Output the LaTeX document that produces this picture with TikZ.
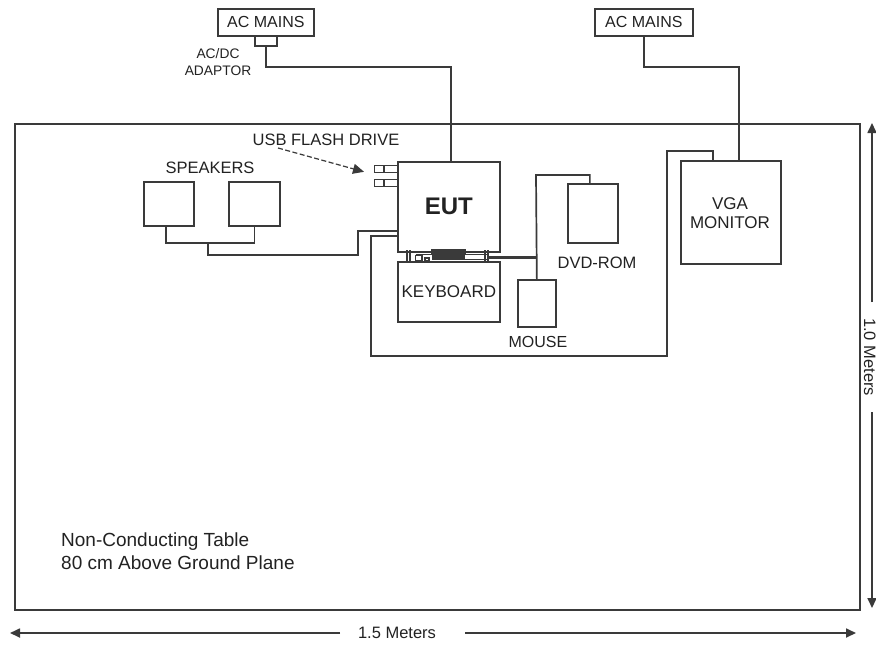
\documentclass[tikz,border=0pt]{standalone}
\usepackage{fontspec}
\setmainfont{Liberation Sans}
\usetikzlibrary{arrows.meta,calc}
\definecolor{lc}{HTML}{3A3A3A}
\definecolor{tc}{HTML}{222222}
\begin{document}
\begin{tikzpicture}[x=1pt,y=-1pt,
  ln/.style={draw=lc, line width=1.7pt},
  thin/.style={draw=lc, line width=1.1pt},
  box/.style={draw=lc, line width=1.7pt, inner sep=0pt, anchor=north west, text=tc},
  lbl/.style={text=tc, inner sep=0pt},
  fs/.style={font=\fontsize{#1}{#1}\selectfont},
  dimtip/.style={-{Triangle[length=10pt,width=9pt]}}
]
\useasboundingbox (0,0) rectangle (876,651);
\fill[white] (0,0) rectangle (876,651);

% table
\node[box, minimum width=845pt, minimum height=486pt] (table) at (14,123) {};

% mains and adaptor
\node[box, minimum width=96pt, minimum height=27pt, fs=16] (acm1) at (217,8) {AC MAINS};
\node[box, minimum width=22pt, minimum height=10pt] (adp) at (254,35) {};
\node[lbl, align=center, font=\fontsize{13.8}{17}\selectfont] (adplbl) at (218,62) {AC/DC\\ADAPTOR};
\node[box, minimum width=98pt, minimum height=27pt, fs=16] (acm2) at (594,8) {AC MAINS};

% equipment
\node[box, minimum width=102pt, minimum height=90pt, font=\bfseries\fontsize{24}{24}\selectfont] (eut) at (397,161) {EUT};
\node[box, minimum width=102pt, minimum height=60pt, fs=17] (kbd) at (397,261) {KEYBOARD};
\node[box, minimum width=100pt, minimum height=103pt] (vga) at (680,160) {};
\node[lbl, align=center, font=\fontsize{17}{19}\selectfont] (vgalbl) at (730,213) {VGA\\MONITOR};
\node[box, minimum width=50pt, minimum height=44pt] (spkL) at (143,181) {};
\node[box, minimum width=51pt, minimum height=44pt] (spkR) at (228,181) {};
\node[lbl, fs=16.5] (spklbl) at (210,168) {SPEAKERS};
\node[box, minimum width=50pt, minimum height=59pt] (dvd) at (567,183) {};
\node[lbl, fs=16.5] (dvdlbl) at (597,263) {DVD-ROM};
\node[box, minimum width=38pt, minimum height=47pt] (mouse) at (517,279) {};
\node[lbl, fs=16] (mouselbl) at (538,342) {MOUSE};

% USB flash drives
\node[box, thin, minimum width=23pt, minimum height=6.5pt] (usb1) at (374,165) {};
\node[box, thin, minimum width=23pt, minimum height=6.5pt] (usb2) at (374,179) {};
\draw[thin] ($(usb1.north west)+(10,0)$) -- ($(usb1.south west)+(10,0)$);
\draw[thin] ($(usb2.north west)+(10,0)$) -- ($(usb2.south west)+(10,0)$);
\node[lbl, fs=16.5] (usblbl) at (326,140) {USB FLASH DRIVE};
\coordinate (usbA) at (278,148);
\coordinate (usbB) at ($(usb1.west)+(-10,3)$);
\draw[draw=lc, line width=1.2pt, dash pattern=on 5pt off 2.5pt, -{Triangle[length=11pt,width=10pt]}] (usbA) -- (usbB);

% mains cables
\coordinate (m1) at (451,67);
\draw[ln] (adp.south) |- (m1) -- (m1 |- eut.north);
\coordinate (m2) at (739,67);
\draw[ln] (acm2.south) |- (m2) -- (m2 |- vga.north);

% VGA cable loop
\coordinate (v1) at (713,151);
\coordinate (v2) at (667,356);
\coordinate (v3) at (371,236);
\draw[ln] (v1 |- vga.north) -- (v1) -| (v2) -| (v3) -- (v3 -| eut.west);

% speaker cables
\coordinate (s1) at (358,231);
\coordinate (s2) at (208,255);
\coordinate (s3) at (208,243);
\draw[ln] (s1 -| eut.west) -- (s1) |- (s2) -- (s3);
\draw[ln] ($(spkL.south)+(-3,0)$) |- ($(spkR.south |- s3)$) -- (spkR.south);

% keyboard / EUT connectors
\draw[thin] (407,250) -- (407,261);
\draw[thin] (410,250) -- (410,261);
\draw[thin] (415.5,255.5) rectangle (422,261);
\draw[thin] (415.5,254.5) -- (432,254.5);
\draw[thin] (425,258) rectangle (429,261);
\draw[thin] (432,250) rectangle (465,254);
\fill[lc] (432,254.5) rectangle (465,259.5);
\draw[thin] (465,254.5) -- (488,254.5);
\draw[thin] (465,259.5) -- (488,259.5);
\draw[thin] (485,250) -- (485,261);
\draw[thin] (488,250) -- (488,261);

% DVD / mouse cable
\coordinate (d0) at (488,257);
\coordinate (d1) at (536,175);
\draw[draw=lc, line width=3pt] (d0) -- (d0 -| mouse.north);
\draw[ln] (mouse.north) -- (d1) -| ($(dvd.north)+(-3,0)$);

% notes
\node[lbl, anchor=north west, align=left, font=\fontsize{19}{22.5}\selectfont] (note) at (61,533) {Non-Conducting Table\\80 cm Above Ground Plane};

% horizontal dimension
\coordinate (hL) at (10,633);
\coordinate (hR) at (856,633);
\coordinate (hgL) at (340,633);
\coordinate (hgR) at (465,633);
\node[lbl, fs=16.5] (htxt) at (397,633) {1.5 Meters};
\draw[ln, dimtip] (hgL) -- (hL);
\draw[ln, dimtip] (hgR) -- (hR);

% vertical dimension
\coordinate (vT) at (872,123);
\coordinate (vB) at (872,608);
\coordinate (vgT) at (872,302);
\coordinate (vgB) at (872,412);
\node[lbl, fs=16.5, rotate=-90, anchor=base] (vtxt) at (864,357) {1.0 Meters};
\draw[ln, dimtip] (vgT) -- (vT);
\draw[ln, dimtip] (vgB) -- (vB);
\end{tikzpicture}
\end{document}
